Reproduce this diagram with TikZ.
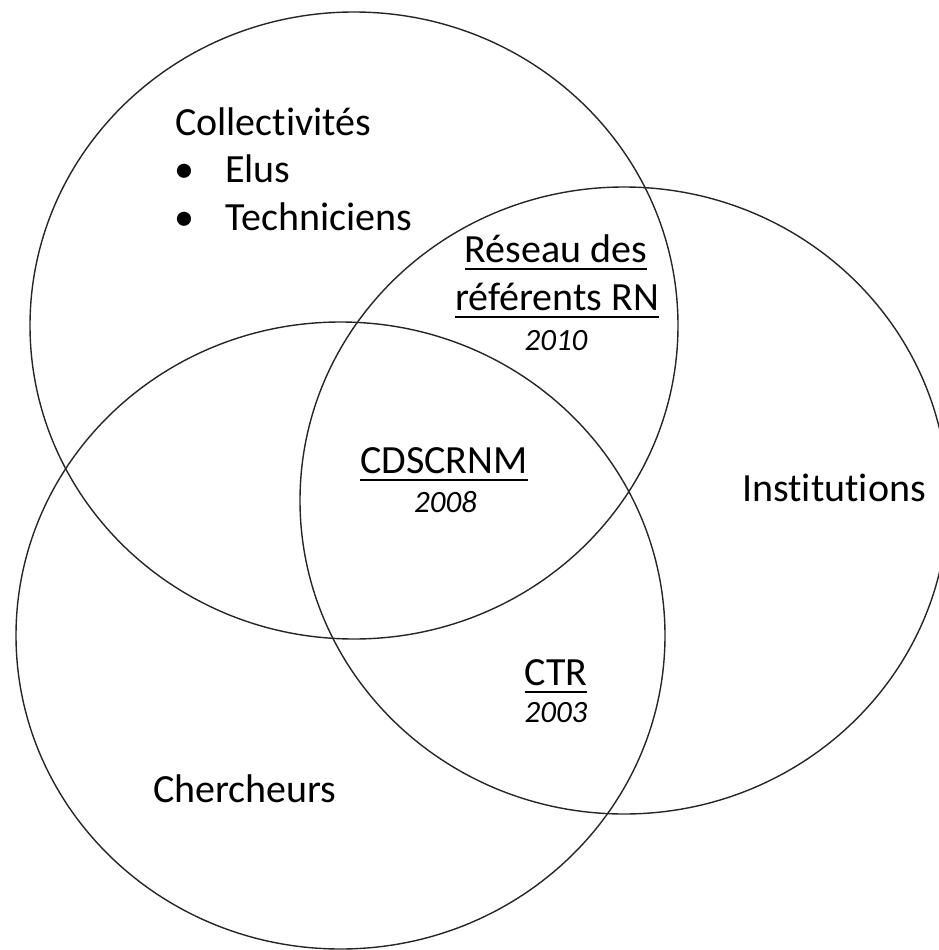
\documentclass[tikz,border=0pt]{standalone}
\usepackage{fontspec}
\setmainfont{Carlito}[Ligatures=NoCommon]
\usepackage{tikz}
\usetikzlibrary{positioning}

% underline with fixed depth and thickness
\newcommand{\ulword}[1]{\setbox0\hbox{#1}\rlap{\rule[-8.2pt]{\wd0}{2.4pt}}\box0}

\begin{document}
\begin{tikzpicture}[
      x=1pt,y=-1pt,
      set/.style={
         draw=black!85,
         line width=1.4pt
      },
      groupname/.style={
         inner sep=0pt,
         font=\fontsize{40}{48}\selectfont
      },
      yearlabel/.style={
         inner sep=0pt,
         font=\fontsize{31}{37}\selectfont\itshape
      }
    ]
    \useasboundingbox (0,0) rectangle (939,950);
    % the three sets
    \draw[set] (354,325.5) ellipse [x radius=324pt, y radius=313.5pt];
    \draw[set] (624,500.5) ellipse [x radius=324pt, y radius=313.5pt];
    \draw[set] (340.5,635.5) ellipse [x radius=324.5pt, y radius=313.5pt];
    % Collectivités
    \node (coll) [groupname, anchor=base west] at (175,135) {Collectivités};
    \node (bul1) [groupname, anchor=base west] at (174,182) {\textbullet};
    \node (elus) [groupname, anchor=base west] at (225,182) {Elus};
    \node (bul2) [groupname, anchor=base west] at (174,230) {\textbullet};
    \node (tech) [groupname, anchor=base west] at (225,230) {Techniciens};
    % Institutions, Chercheurs
    \node (inst) [groupname, anchor=base] at (834,501) {Institutions};
    \node (cher) [groupname, anchor=base west] at (153,802) {Chercheurs};
    % intersections
    \node (res1) [groupname, anchor=base] at (556,262) {\ulword{Réseau des}};
    \node (res2) [groupname, anchor=base] at (557,310) {\ulword{référents RN}};
    \node (y2010) [yearlabel, anchor=base] at (556,350) {2010};
    \node (cds) [groupname, anchor=base] at (444,473) {\ulword{CDSCRNM}};
    \node (y2008) [yearlabel, anchor=base] at (445.5,512) {2008};
    \node (ctr) [groupname, anchor=base] at (556,685) {\ulword{CTR}};
    \node (y2003) [yearlabel, anchor=base] at (556,722) {2003};
\end{tikzpicture}
\end{document}
